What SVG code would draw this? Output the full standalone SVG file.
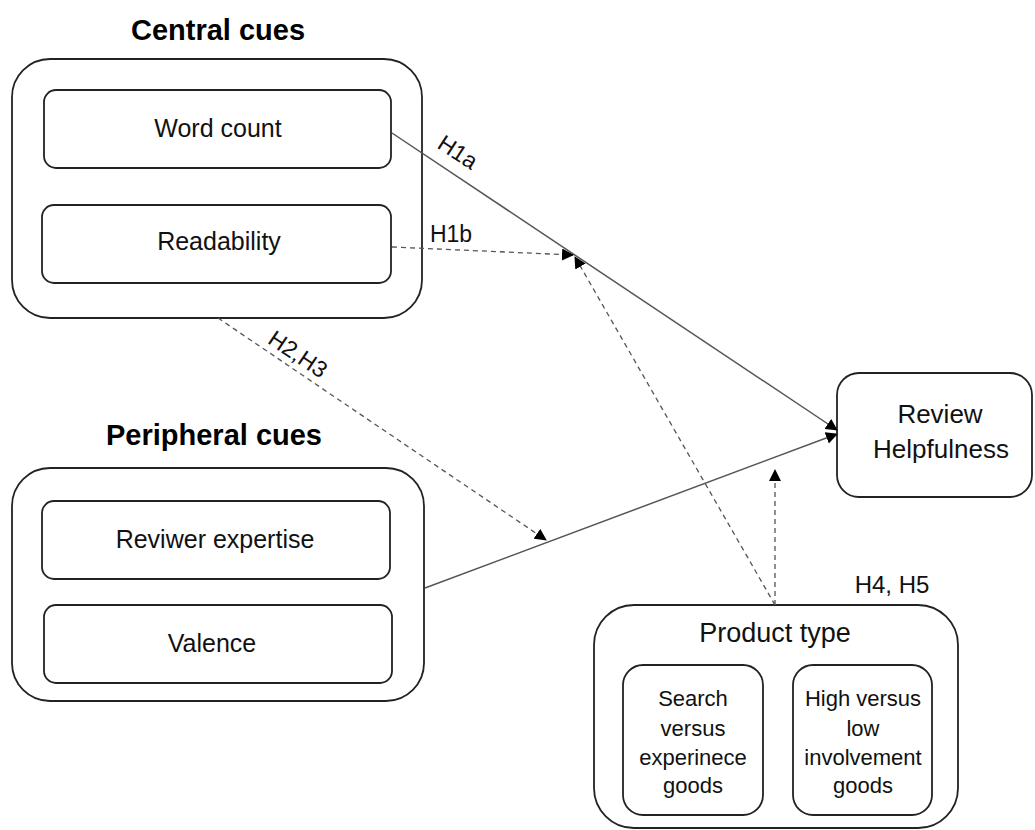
<svg xmlns="http://www.w3.org/2000/svg" width="1035" height="830" viewBox="0 0 1035 830">
<defs>
<style>
.box{fill:#fff;stroke:#222;stroke-width:1.8}
.t{font-family:"Liberation Sans",Arial,sans-serif;fill:#111;text-anchor:middle}
.title{font-family:"Liberation Sans",Arial,sans-serif;font-weight:bold;fill:#000;text-anchor:middle;font-size:29px}
.solid{stroke:#555;stroke-width:1.5;fill:none}
.dash{stroke:#555;stroke-width:1.3;fill:none;stroke-dasharray:5 4}
</style>
<marker id="ah" markerWidth="12" markerHeight="12" refX="11" refY="6" orient="auto" markerUnits="userSpaceOnUse">
<path d="M0,0 L12,6 L0,12 Z" fill="#000"/>
</marker>
</defs>
<rect width="1035" height="830" fill="#fff"/>

<g id="central">
<text class="title" x="218" y="40">Central cues</text>
<rect class="box" x="12" y="59" width="410" height="259" rx="38"/>
<g id="word-count">
<rect class="box" x="44" y="90" width="347" height="78" rx="12"/>
<text class="t" x="218" y="137" font-size="25">Word count</text>
</g>
<g id="readability">
<rect class="box" x="42" y="205" width="349" height="78" rx="12"/>
<text class="t" x="219" y="250" font-size="25">Readability</text>
</g>
</g>

<g id="peripheral">
<text class="title" x="214" y="445">Peripheral cues</text>
<rect class="box" x="12" y="468" width="412" height="233" rx="38"/>
<g id="reviewer-expertise">
<rect class="box" x="42" y="501" width="348" height="78" rx="12"/>
<text class="t" x="215" y="548" font-size="25">Reviwer expertise</text>
</g>
<g id="valence">
<rect class="box" x="44" y="605" width="348" height="78" rx="12"/>
<text class="t" x="212" y="652" font-size="25">Valence</text>
</g>
</g>

<g id="review-helpfulness">
<rect class="box" x="837" y="373" width="195" height="124" rx="22"/>
<text class="t" x="940" y="423" font-size="26">Review</text>
<text class="t" x="941" y="458" font-size="26">Helpfulness</text>
</g>

<g id="product-type">
<rect class="box" x="594" y="605" width="364" height="223" rx="40"/>
<text class="t" x="775" y="642" font-size="27">Product type</text>
<text class="t" x="892" y="593" font-size="24">H4, H5</text>
<g id="search-experience">
<rect class="box" x="623" y="665" width="140" height="150" rx="20"/>
<text class="t" x="693" y="706" font-size="22">Search</text>
<text class="t" x="693" y="736" font-size="22">versus</text>
<text class="t" x="693" y="765" font-size="22">experinece</text>
<text class="t" x="693" y="793" font-size="22">goods</text>
</g>
<g id="high-low-involvement">
<rect class="box" x="793" y="665" width="139" height="150" rx="20"/>
<text class="t" x="863" y="706" font-size="22">High versus</text>
<text class="t" x="863" y="736" font-size="22">low</text>
<text class="t" x="863" y="765" font-size="22">involvement</text>
<text class="t" x="863" y="793" font-size="22">goods</text>
</g>
</g>

<g id="connectors">
<line class="solid" x1="392" y1="133" x2="837" y2="430" marker-end="url(#ah)"/>
<line class="dash" x1="392" y1="247" x2="573" y2="255" marker-end="url(#ah)"/>
<line class="dash" x1="775" y1="605" x2="575" y2="257" marker-end="url(#ah)"/>
<line class="dash" x1="218" y1="318" x2="546" y2="540" marker-end="url(#ah)"/>
<line class="solid" x1="425" y1="588" x2="837" y2="434" marker-end="url(#ah)"/>
<line class="dash" x1="775" y1="605" x2="775" y2="470" marker-end="url(#ah)"/>
<text class="t" x="458" y="160" font-size="23" transform="rotate(33 458 152)">H1a</text>
<text class="t" x="451" y="242" font-size="23">H1b</text>
<text class="t" x="298" y="362" font-size="23" transform="rotate(34 298 354)">H2,H3</text>
</g>
</svg>
